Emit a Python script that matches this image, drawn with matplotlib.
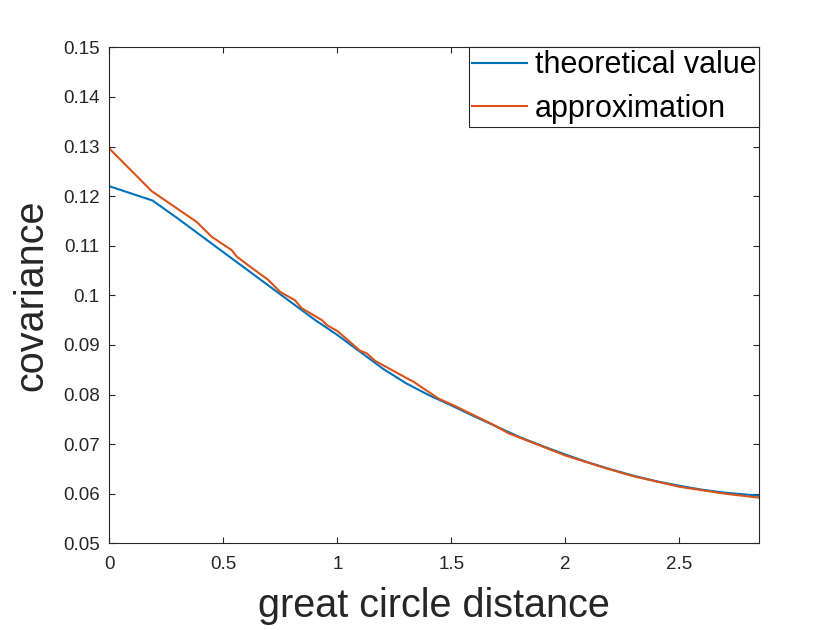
import matplotlib
matplotlib.use("Agg")
import matplotlib.pyplot as plt
from matplotlib.ticker import FuncFormatter

plt.rcParams['font.family'] = ['Liberation Sans', 'DejaVu Sans']

# theoretical value
theo_x = [0.0, 0.19, 0.3, 0.4, 0.5, 0.6, 0.7, 0.8, 0.9, 1.0, 1.1, 1.2, 1.3, 1.4,
          1.5, 1.6, 1.7, 1.8, 1.9, 2.0, 2.1, 2.2, 2.3, 2.4, 2.5, 2.6, 2.7, 2.8, 2.85]
theo_y = [0.1220, 0.1191, 0.1155, 0.1121, 0.1087, 0.1053, 0.1019, 0.0985, 0.0951,
          0.0920, 0.0886, 0.0852, 0.0823, 0.0799, 0.0778, 0.0756, 0.0735, 0.0714,
          0.0696, 0.0679, 0.0663, 0.0649, 0.0636, 0.0625, 0.0616, 0.0608, 0.0602,
          0.0598, 0.0596]

# approximation
appr_x = [0.0, 0.186, 0.383, 0.449, 0.537, 0.559, 0.617, 0.697, 0.749, 0.814, 0.844,
          0.932, 0.954, 1.0, 1.063, 1.1, 1.129, 1.165, 1.304, 1.333, 1.443, 1.524,
          1.684, 1.75, 1.9, 2.0, 2.18, 2.3, 2.5, 2.7, 2.85]
appr_y = [0.1296, 0.1210, 0.1148, 0.1118, 0.1091, 0.1078, 0.1058, 0.1031, 0.1007,
          0.0990, 0.0974, 0.0950, 0.0940, 0.0928, 0.0903, 0.0888, 0.0883, 0.0868,
          0.0833, 0.0826, 0.0792, 0.0775, 0.0739, 0.0722, 0.0695, 0.0677, 0.0651,
          0.0635, 0.0614, 0.0600, 0.0592]

x_ticks = [0, 0.5, 1, 1.5, 2, 2.5]
y_ticks = [0.05, 0.06, 0.07, 0.08, 0.09, 0.1, 0.11, 0.12, 0.13, 0.14, 0.15]

fig = plt.figure(figsize=(8.4, 6.3), dpi=100)
ax = fig.add_axes([0.1301, 0.1376, 0.7738, 0.7873])

ax.plot(theo_x, theo_y, color='#0072BD', lw=1.5, label='theoretical value')
ax.plot(appr_x, appr_y, color='#D95319', lw=1.5, label='approximation')

ax.set_xlim(0, 2.85)
ax.set_ylim(0.05, 0.15)
ax.set_xticks(x_ticks)
ax.set_yticks(y_ticks)
fmt = FuncFormatter(lambda v, p: '%g' % round(v, 4))
ax.xaxis.set_major_formatter(fmt)
ax.yaxis.set_major_formatter(fmt)
ax.tick_params(direction='in', length=4.5, width=0.8, top=True, right=True,
               labelsize=13.5, colors='#262626')
ax.tick_params(axis='x', pad=9)
ax.tick_params(axis='y', pad=7)
for s in ax.spines.values():
    s.set_color('#262626')
    s.set_linewidth(0.8)

ax.set_xlabel('great circle distance', fontsize=28.5, color='#262626', labelpad=10)
ax.set_ylabel('covariance', fontsize=28.5, color='#262626', labelpad=9)

leg = ax.legend(loc='upper right', fontsize=22, frameon=True, fancybox=False,
                borderaxespad=0, borderpad=0.1, labelspacing=0.45,
                handlelength=1.8, handletextpad=0.25, handleheight=0.7)
leg.get_frame().set_edgecolor('#262626')
leg.get_frame().set_linewidth(0.8)
leg.get_frame().set_alpha(1)

fig.savefig('out.png', dpi=100, facecolor='white')
